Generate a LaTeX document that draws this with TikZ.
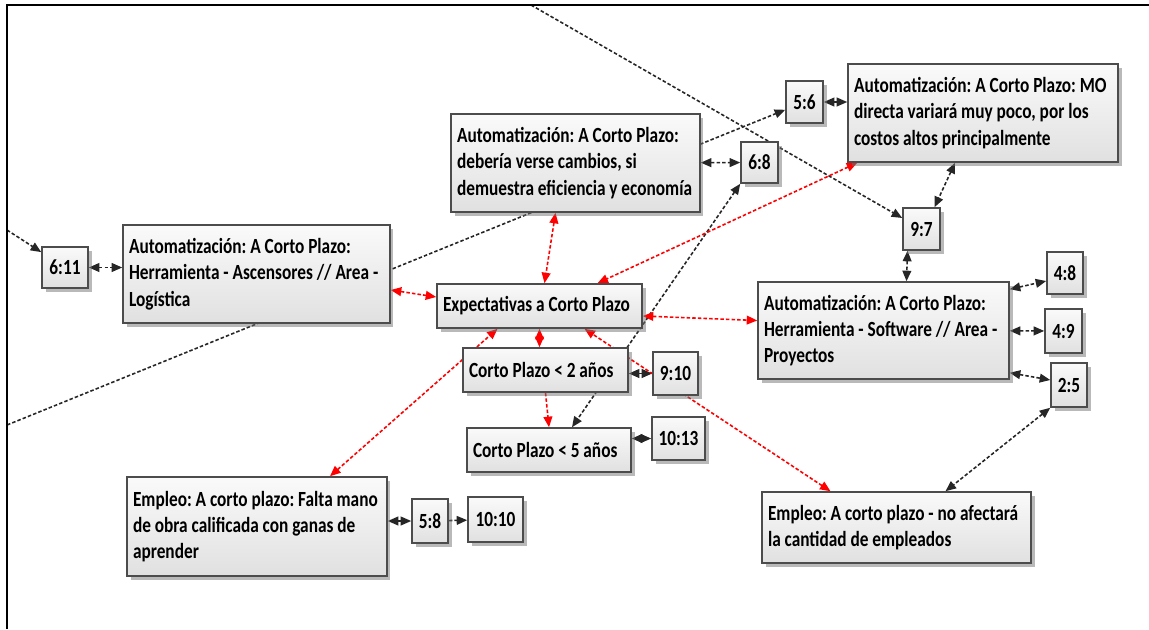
\documentclass[tikz,border=0pt]{standalone}
\usepackage{fontspec}
\setmainfont{Carlito}[FakeStretch=0.8]
\usetikzlibrary{arrows.meta, shadows, backgrounds, calc}
\protected\def\cajafont{\fontsize{12.3}{15}\selectfont\bfseries\frenchspacing}
\protected\def\cajaesp{\spaceskip=2.2pt plus 1pt\relax\xspaceskip=2.2pt plus 1pt\relax}

\begin{document}
\begin{tikzpicture}[x=0.02cm, y=-0.02cm,
  >={Triangle[length=6pt,width=5pt]},
  caja/.style={draw=black!70, line width=0.9pt, top color=black!2, bottom color=black!12,
    drop shadow={shadow xshift=2pt, shadow yshift=-2pt, fill=black!55},
    font=\cajafont, execute at begin node=\cajaesp,
    align=left, inner xsep=0.12cm, inner ysep=0pt},
  cita/.style={caja, align=center, inner sep=0pt, minimum width=0.74cm, minimum height=0.84cm},
  neg/.style={black!85, line width=0.9pt, dash pattern=on 2pt off 1.2pt},
  rojo/.style={neg, red}]
  \useasboundingbox (0,0) rectangle (1149,629);
  %marco
  \draw[line width=1.1pt] (7,629) -- (7,5) -- (1149,5);
  \coordinate (arr) at (531,5);
  \coordinate (izq) at (7,425);
  \coordinate (izq2) at (7,230);
  %conceptos
  \node[caja, text width=5.10cm, minimum height=1.96cm] (asc) at (256.5,274)
    {Automatización: A Corto Plazo:\\Herramienta - Ascensores // Area -\\Logística};
  \node[caja, text width=4.74cm, minimum height=1.96cm] (deb) at (575.5,163)
    {Automatización: A Corto Plazo:\\debería verse cambios, si\\demuestra eficiencia y economía};
  \node[caja, text width=5.16cm, minimum height=1.96cm] (mo) at (983,113)
    {Automatización: A Corto Plazo: MO\\directa variará muy poco, por los\\costos altos principalmente};
  \node[caja, text width=4.78cm, minimum height=1.94cm] (sw) at (883.5,330.5)
    {Automatización: A Corto Plazo:\\Herramienta - Software // Area -\\Proyectos};
  \node[caja, text width=3.86cm, minimum height=0.88cm] (exp) at (539.5,306) {Expectativas a Corto Plazo};
  \node[caja, text width=3.06cm, minimum height=0.88cm] (cp2) at (545.5,370) {Corto Plazo < 2 años};
  \node[caja, text width=3.04cm, minimum height=0.88cm] (cp5) at (549,450) {Corto Plazo < 5 años};
  \node[caja, text width=4.96cm, minimum height=1.98cm] (empL) at (257,526.5)
    {Empleo: A corto plazo: Falta mano\\de obra calificada con ganas de\\aprender};
  \node[caja, text width=5.14cm, minimum height=1.42cm] (empR) at (896.5,527.5)
    {Empleo: A corto plazo - no afectará\\la cantidad de empleados};
  %citas
  \node[cita, minimum width=0.92cm, minimum height=0.82cm] (n611) at (65,267.5) {6:11};
  \node[cita, minimum height=0.82cm] (n68) at (759.5,162.5) {6:8};
  \node[cita] (n56) at (804.5,102) {5:6};
  \node[cita] (n97) at (921.5,229) {9:7};
  \node[cita, minimum width=0.72cm] (n48) at (1065,273) {4:8};
  \node[cita, minimum height=0.88cm] (n49) at (1063.5,331) {4:9};
  \node[cita, minimum width=0.72cm, minimum height=0.88cm] (n25) at (1069,385) {2:5};
  \node[cita, minimum width=0.90cm, minimum height=0.86cm] (n910) at (675.5,373.5) {9:10};
  \node[cita, minimum width=1.06cm, minimum height=0.86cm] (n1013) at (678.5,438.5) {10:13};
  \node[cita, minimum width=0.72cm, minimum height=0.88cm] (n58) at (430,521) {5:8};
  \node[cita, minimum width=1.10cm, minimum height=0.90cm] (n1010) at (495.5,519.5) {10:10};
  \begin{scope}[on background layer]
    %negras
    \draw[neg, ->] (arr) -- (n97);
    \draw[neg, ->] (izq) -- (n56);
    \draw[neg, ->] (izq2) -- (n611);
    \draw[neg, <->] (n611) -- (n611 -| asc.west);
    \draw[neg, <->] (deb) -- (n68);
    \draw[neg, <->] (n56) -- (n56 -| mo.west);
    \draw[neg, <->] ($(mo.south)+(-28,0)$) -- ($(n97.north)+(13,0)$);
    \draw[neg, <->] ($(n97.south)+(-14,0)$) -- ($(sw.north)+(23,0)$);
    \draw[neg, <->] ($(sw.north east)+(0,8)$) -- ($(n48.west)+(0,8)$);
    \draw[neg, <->] (sw) -- (n49);
    \draw[neg, <->] ($(sw.south east)+(0,-7)$) -- ($(n25.west)+(0,-5)$);
    \draw[neg, <->] (n25.south west) -- ($(empR.north)+(49,0)$);
    \draw[neg, <->] (n910) -- (n910 -| cp2.east);
    \draw[neg, <->] (n1013) -- (n1013 -| cp5.east);
    \draw[neg, <->] (n58) -- (n58 -| empL.east);
    \draw[neg, ->] (n58) -- (n1010);
    \draw[neg, <->] (n68.south west) -- ($(cp5.north)+(23,0)$);
    %rojas
    \draw[rojo, <->] ($(deb.south)+(-20,0)$) -- ($(exp.north)+(5,0)$);
    \draw[rojo, <->] ($(mo.south west)+(10,0)$) -- ($(exp.north)+(58,0)$);
    \draw[rojo, <->] ($(asc.east)+(0,16)$) -- ($(exp.west)+(0,-9)$);
    \draw[rojo, <->] ($(exp.east)+(0,10)$) -- ($(sw.west)+(0,-10)$);
    \draw[rojo, <->] (exp.south) -- (exp.south |- cp2.north);
    \draw[rojo, <->] ($(empL.north)+(73,0)$) -- ($(exp.south)+(-42,0)$);
    \draw[rojo, <->] ($(empR.north)+(-66,0)$) -- ($(exp.south)+(45,0)$);
    \draw[rojo, ->] (cp2.south) -- (cp5.north);
  \end{scope}
\end{tikzpicture}
\end{document}
